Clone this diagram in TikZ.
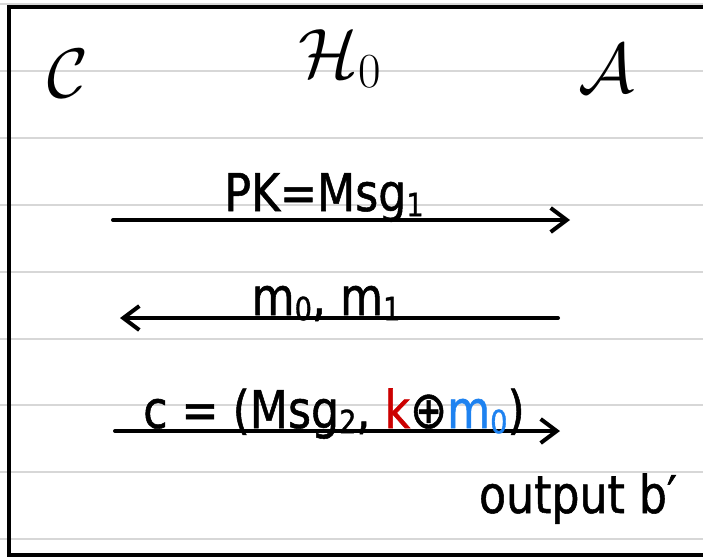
\RequirePackage{fix-cm}
\documentclass[tikz,border=0pt]{standalone}
\usepackage{fontspec}
\usepackage{xcolor}
\usetikzlibrary{arrows.meta}
\newfontfamily\handfont{DejaVu Sans}[FakeStretch=0.85, FakeBold=1]
\newcommand{\sbs}[1]{\raisebox{-0.1em}{\fontsize{32}{32}\selectfont #1}}
\definecolor{inkred}{RGB}{204,0,0}
\definecolor{inkblue}{RGB}{30,130,240}
\definecolor{rulegray}{RGB}{215,215,215}

\begin{document}
\begin{tikzpicture}[
  x=1pt, y=-1pt,
  rule/.style={draw=rulegray, line width=2pt},
  frame/.style={draw=black, line width=4pt},
  party/.style={inner sep=0pt, anchor=base, font={\fontsize{70}{70}\selectfont}},
  msg/.style={inner sep=0pt, anchor=base, font={\handfont\fontsize{52}{52}\selectfont}},
  arrow/.style={-{Straight Barb[length=16pt, width=24pt]}, line width=4pt, line cap=round},
]
  \useasboundingbox (0,0) rectangle (703,557);

  % ruled paper
  \foreach \k in {0,...,8}
    \draw[rule] (0,4+66.9*\k) -- (703,4+66.9*\k);
  \draw[frame] (703,7) -- (9,7) -- (9,555) -- (703,555);

  \node[party] (chal) at (68,97) {$\mathcal{C}$};
  \node[party] (game) at (340,77) {$\mathcal{H}_0$};
  \node[party] (adv) at (606,92) {$\mathcal{A}$};

  \coordinate (pkL) at (113,220);
  \coordinate (pkR) at (570,220);
  \coordinate (mL) at (120,318);
  \coordinate (mR) at (558,318);
  \coordinate (cL) at (115,431);
  \coordinate (cR) at (560,431);

  \draw[arrow] (pkL) -- (pkR);
  \draw[arrow] (mR) -- (mL);
  \draw[arrow] (cL) -- (cR);

  \node[msg] (pk) at (324,211) {PK=Msg\sbs{1}};
  \node[msg] (mm) at (326,315) {m\sbs{0}, m\sbs{1}};
  \node[msg] (ct) at (334,428) {c = (Msg\sbs{2}, {\color{inkred}k}⊕{\color{inkblue}m\sbs{0}})};
  \node[msg] (out) at (578,513) {output b′};
\end{tikzpicture}
\end{document}
